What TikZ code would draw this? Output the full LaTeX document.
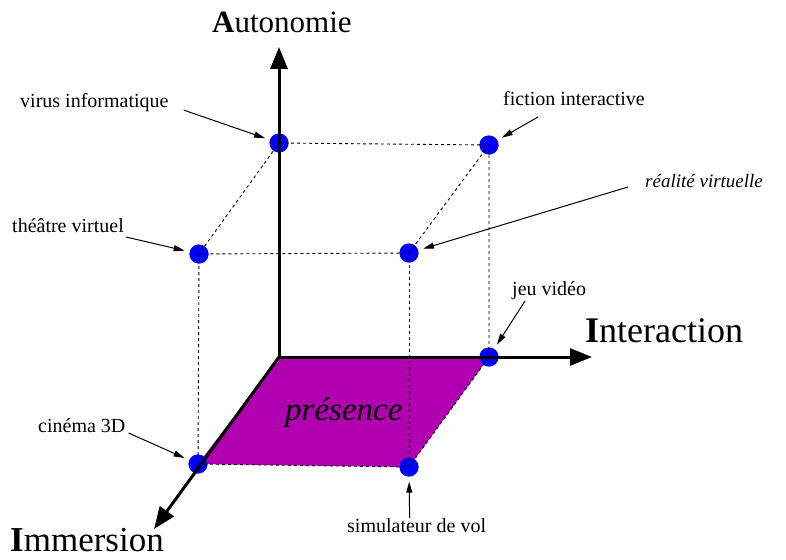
\documentclass[tikz,border=0pt]{standalone}
\usepackage{fontspec}
\setmainfont{Liberation Serif}
\usetikzlibrary{arrows.meta}
\definecolor{presenceviolet}{RGB}{176,0,176}
\tikzset{
  axe/.style={line width=3pt, -{Triangle[length=22pt,width=17pt]}},
  point/.style={circle, fill=blue, inner sep=0pt, minimum size=19pt},
  pointille/.style={dash pattern=on 3pt off 3pt, line width=0.9pt},
  etiquette/.style={inner sep=0pt, anchor=base west, font=\fontsize{20}{24}\selectfont},
  titreaxe/.style={inner sep=0pt, anchor=base west},
  fleche/.style={line width=1pt, -{Triangle[length=11pt,width=6pt]}, shorten >=5pt}
}

\begin{document}
\begin{tikzpicture}[x=1pt, y=-1pt]
    \useasboundingbox (0,0) rectangle (786,559);

    % Origine et extremites des axes
    \coordinate (O) at (279,357);
    \coordinate (finA) at (279,47);
    \coordinate (finI) at (592,357);
    \coordinate (finM) at (154,529);

    % Les sommets du cube
    \node[point] (vi) at (279,143) {};
    \node[point] (fi) at (489,145) {};
    \node[point] (th) at (199,254) {};
    \node[point] (re) at (409,253) {};
    \node[point] (jv) at (489,357) {};
    \node[point] (ci) at (198,464) {};
    \node[point] (si) at (409,467) {};

    % Plan de la presence
    \fill[presenceviolet] (O) -- (jv.center) -- (si.center) -- (ci.center) -- cycle;
    \node[titreaxe, font=\fontsize{33}{38}\selectfont\itshape] (pres) at (285,420) {présence};

    % On redessine les points par-dessus le plan
    \foreach \p in {vi,fi,th,re,jv,ci,si}
        \fill[blue] (\p.center) circle (9.5pt);

    % Aretes en pointilles
    \draw[pointille] (vi.center) -- (fi.center) -- (re.center) -- (th.center) -- cycle;
    \draw[pointille] (th.center) -- (ci.center) -- (si.center) -- (jv.center) -- (fi.center);
    \draw[pointille] (re.center) -- (si.center);

    % Axes
    \draw[axe] (O) -- (finA);
    \draw[axe] (O) -- (finI);
    \draw[axe] (O) -- (finM);
    \node[titreaxe, font=\fontsize{31}{36}\selectfont] (autonomie) at (212,33) {\textbf{A}utonomie};
    \node[titreaxe, font=\fontsize{36}{42}\selectfont] (interaction) at (585,342) {\textbf{I}nteraction};
    \node[titreaxe, font=\fontsize{35}{40}\selectfont] (immersion) at (10,551) {\textbf{I}mmersion};

    % Etiquettes des exemples
    \node[etiquette] (virus) at (20,107) {virus informatique};
    \node[etiquette] (fiction) at (503,106) {fiction interactive};
    \node[etiquette, font=\fontsize{19}{23}\selectfont\itshape] (realite) at (645,187) {réalité virtuelle};
    \node[etiquette] (theatre) at (12,232) {théâtre virtuel};
    \node[etiquette] (jeu) at (512,295) {jeu vidéo};
    \node[etiquette] (cinema) at (38,432) {cinéma 3D};
    \node[etiquette] (simul) at (347,532) {simulateur de vol};

    \draw[fleche] ([shift={(15,8)}]virus.east) -- (vi);
    \draw[fleche] ([shift={(35,11)}]fiction.base west) -- (fi);
    \draw[fleche] ([shift={(-17,0)}]realite.base west) -- (re);
    \draw[fleche] ([shift={(2,5)}]theatre.base east) -- (th);
    \draw[fleche] ([shift={(13,6)}]jeu.base west) -- (jv);
    \draw[fleche] ([shift={(3,1)}]cinema.base east) -- (ci);
    \draw[fleche] ([shift={(-7,0)}]simul.north) -- (si);
\end{tikzpicture}
\end{document}
